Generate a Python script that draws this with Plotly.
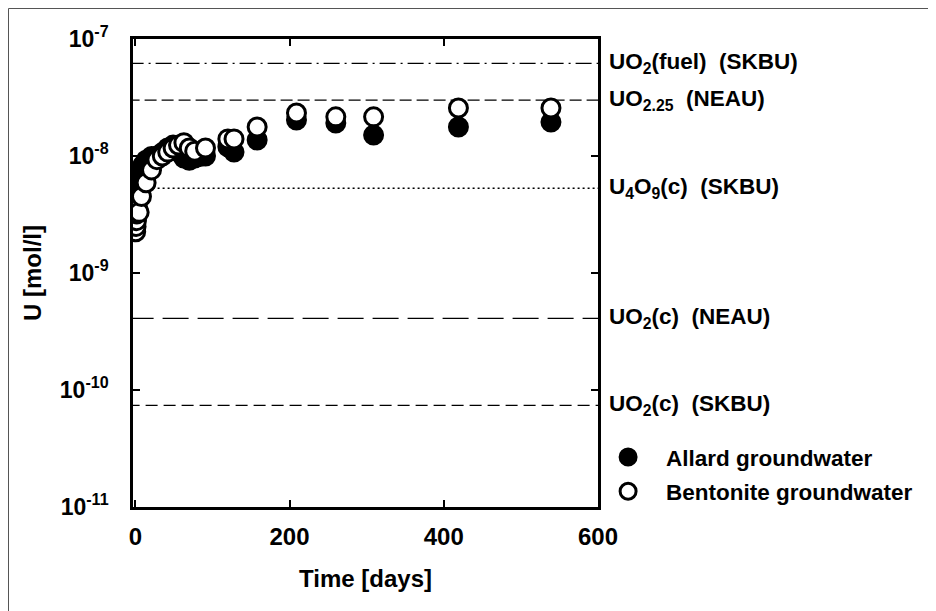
import math
import plotly.graph_objects as go

# ---- data ----
allard_days = [1, 2, 4, 7, 10, 14, 21, 28, 35, 42, 49, 56, 63, 70, 77, 84, 91, 120, 128, 158, 209, 260, 309, 419, 539]
allard_u = [5.6e-9, 6.5e-9, 5.1e-9, 7.6e-9, 8.4e-9, 9.2e-9, 9.9e-9, 1.0e-8, 1.07e-8, 1.17e-8, 1.24e-8,
            1.08e-8, 9.6e-9, 9.2e-9, 9.6e-9, 9.9e-9, 1.0e-8, 1.2e-8, 1.08e-8, 1.37e-8, 2.03e-8, 1.91e-8,
            1.51e-8, 1.77e-8, 1.95e-8]

bent_days = [0.5, 1, 1.5, 2, 3, 5, 8, 14, 21, 28, 35, 42, 49, 56, 63, 70, 77, 91, 120, 128, 158, 209, 260, 309, 419, 539]
bent_u = [2.25e-9, 2.5e-9, 2.8e-9, 3.2e-9, 3.6e-9, 3.3e-9, 4.5e-9, 5.9e-9, 7.6e-9, 9.3e-9, 1.0e-8, 1.08e-8,
          1.17e-8, 1.24e-8, 1.3e-8, 1.17e-8, 1.1e-8, 1.17e-8, 1.4e-8, 1.4e-8, 1.77e-8, 2.33e-8, 2.16e-8,
          2.16e-8, 2.57e-8, 2.57e-8]

ref_labels = ["UO<sub>2</sub>(fuel)\u00a0 (SKBU)", "UO<sub>2.25</sub>\u00a0 (NEAU)", "U<sub>4</sub>O<sub>9</sub>(c)\u00a0 (SKBU)",
              "UO<sub>2</sub>(c)\u00a0 (NEAU)", "UO<sub>2</sub>(c)\u00a0 (SKBU)"]
ref_values = [6.2e-8, 3.0e-8, 5.3e-9, 4.1e-10, 7.4e-11]
ref_dashes = ["16px,5px,2px,5px", "12px,5px", "2px,3px", "26px,9px", "12px,6px"]

y_tickvals = [1e-11, 1e-10, 1e-9, 1e-8, 1e-7]
y_ticktext = ["10<sup>-11</sup>", "10<sup>-10</sup>", "10<sup>-9</sup>", "10<sup>-8</sup>", "10<sup>-7</sup>"]
x_tickvals = [0, 200, 400, 600]

FONT = "Liberation Sans, Arial, sans-serif"

fig = go.Figure()

for v, d in zip(ref_values, ref_dashes):
    fig.add_trace(go.Scatter(x=[-10, 610], y=[v, v], mode="lines",
                             line=dict(color="black", width=1.3, dash=d),
                             showlegend=False, hoverinfo="skip"))

fig.add_trace(go.Scatter(x=allard_days, y=allard_u, mode="markers", name="Allard groundwater",
                         legendgroup="a",
                         marker=dict(symbol="circle", size=18, color="black",
                                     line=dict(color="black", width=3))))
fig.add_trace(go.Scatter(x=bent_days, y=bent_u, mode="markers", name="Bentonite groundwater",
                         legendgroup="b",
                         marker=dict(symbol="circle", size=18, color="white",
                                     line=dict(color="black", width=3))))

for lab, v in zip(ref_labels, ref_values):
    fig.add_annotation(x=1.0, xref="paper", xshift=9, y=math.log10(v), yref="y",
                       text="<b>" + lab + "</b>", showarrow=False, xanchor="left", yanchor="middle",
                       font=dict(family=FONT, size=22.5, color="black"))

# page offset of 8px (default body margin) is compensated here
OFF = 8
L, R, T, B = 133 - OFF, 598 - OFF, 39 - OFF, 507 - OFF
W, H = 936 - OFF, 611 - OFF
pw, ph = R - L, B - T
fig.add_shape(type="rect", xref="paper", yref="paper",
              x0=(0.5 - L) / pw, x1=(922 - L) / pw, y0=(B - 620) / ph, y1=(B - 0.5) / ph,
              line=dict(color="#555555", width=1), fillcolor="rgba(0,0,0,0)", layer="below")

fig.update_layout(
    width=W, height=H,
    margin=dict(l=L, r=W - R, t=T, b=H - B, pad=0),
    paper_bgcolor="white", plot_bgcolor="white",
    font=dict(family=FONT, color="black"),
    showlegend=True,
    legend=dict(x=0.983, xanchor="left", y=0.152, yanchor="top", bgcolor="rgba(0,0,0,0)",
                font=dict(family=FONT, size=22.5, color="black", weight="bold"),
                tracegroupgap=2, itemsizing="trace", itemwidth=66),
    xaxis=dict(range=[-3, 600], tickvals=x_tickvals, ticktext=[str(v) for v in x_tickvals],
               ticks="inside", ticklen=7, tickwidth=1.5, tickcolor="black",
               showline=True, linecolor="black", linewidth=2.5, mirror="ticks",
               showgrid=False, zeroline=False, ticklabelstandoff=6,
               tickfont=dict(family=FONT, size=24, color="black", weight="bold"),
               title=dict(text="<b>Time [days]</b>", font=dict(family=FONT, size=24, color="black"),
                          standoff=22)),
    yaxis=dict(type="log", range=[-11, -7], tickvals=y_tickvals, ticktext=y_ticktext,
               ticks="inside", ticklen=7, tickwidth=1.5, tickcolor="black",
               showline=True, linecolor="black", linewidth=2.5, mirror="ticks",
               showgrid=False, zeroline=False, ticklabelstandoff=17,
               tickfont=dict(family=FONT, size=23, color="black", weight="bold"),
               title=dict(text="<b>U [mol/l]</b>", font=dict(family=FONT, size=24, color="black"),
                          standoff=12)),
)

fig.write_html("out.html")
